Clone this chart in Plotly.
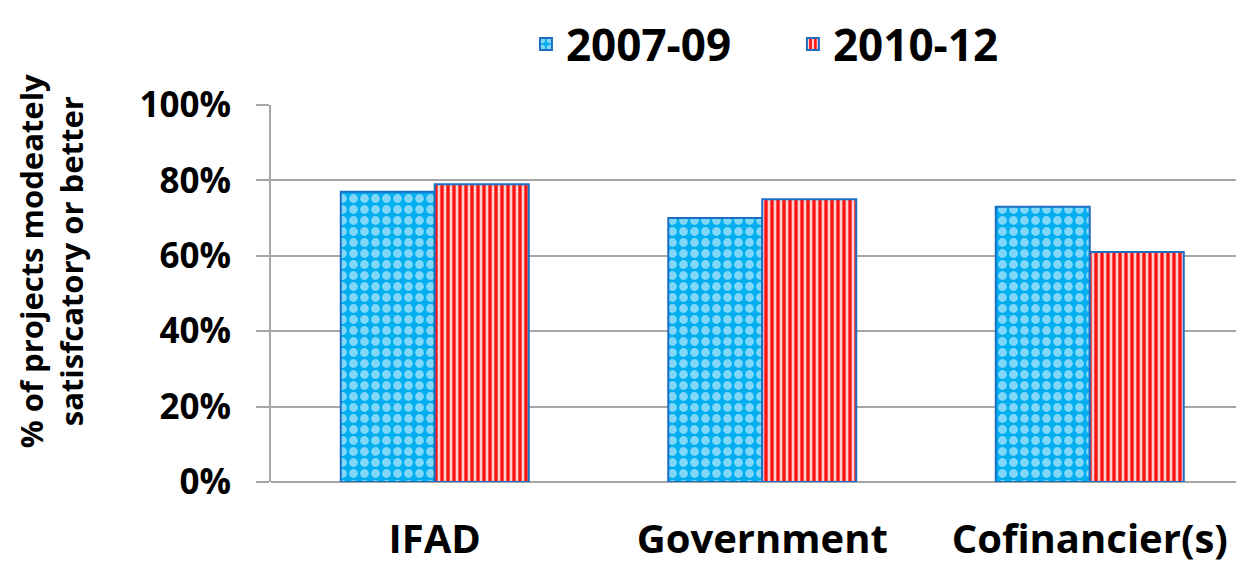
import plotly.graph_objects as go

categories = ["IFAD", "Government", "Cofinancier(s)"]
series_names = ["2007-09", "2010-12"]
values_2007_09 = [0.77, 0.70, 0.73]
values_2010_12 = [0.79, 0.75, 0.61]
y_ticks = [0, 0.2, 0.4, 0.6, 0.8, 1.0]
y_tick_labels = ["0%", "20%", "40%", "60%", "80%", "100%"]
y_title = "% of projects modeately<br>satisfcatory or better"

FONT = "Open Sans"

fig = go.Figure()
fig.add_trace(go.Bar(
    name=series_names[0], x=categories, y=values_2007_09,
    marker=dict(color="#00AEEF",
                pattern=dict(shape=".", fgcolor="white", bgcolor="#00AEEF", size=11, solidity=0.5, fillmode="overlay"),
                line=dict(color="#1C6FC2", width=2)),
))
fig.add_trace(go.Bar(
    name=series_names[1], x=categories, y=values_2010_12,
    marker=dict(color="#FF2020",
                pattern=dict(shape="|", fgcolor="#FF1010", bgcolor="#FFD0D0", size=6, solidity=0.55, fillmode="replace"),
                line=dict(color="#1C6FC2", width=2)),
))

fig.update_layout(
    width=1236, height=557,
    margin=dict(l=263, r=0, t=97, b=83, autoexpand=False),
    paper_bgcolor="white", plot_bgcolor="white",
    barmode="group", bargap=0.426, bargroupgap=0,
    font=dict(family=FONT, color="black"),
    showlegend=True,
    legend=dict(orientation="h", x=0.262, xanchor="left", y=1.255, yanchor="top",
                font=dict(family=FONT, size=44, color="black", weight="bold"),
                itemwidth=30, entrywidth=222, entrywidthmode="pixels", traceorder="normal",
                borderwidth=0),
    xaxis=dict(range=[-0.5, 2.471], showgrid=False, showline=False, ticks="",
               tickfont=dict(family=FONT, size=40, color="black", weight="bold"),
               ticklabelstandoff=30),
    yaxis=dict(range=[0, 1.0], tickvals=y_ticks, ticktext=y_tick_labels,
               showgrid=True, gridcolor="#A6A6A6", gridwidth=2,
               showline=True, linecolor="#A6A6A6", linewidth=2,
               ticks="outside", ticklen=13, tickcolor="#A6A6A6", tickwidth=2,
               tickfont=dict(family=FONT, size=35, color="black", weight="bold"),
               ticklabelstandoff=18,
               zeroline=True, zerolinecolor="#A6A6A6", zerolinewidth=2),
    annotations=[dict(text=y_title, xref="paper", yref="paper", x=-0.226, y=0.586,
                      xanchor="center", yanchor="middle", textangle=-90, showarrow=False,
                      font=dict(family=FONT, size=31, color="black", weight="bold"))],
)

fig.write_html("out.html")
